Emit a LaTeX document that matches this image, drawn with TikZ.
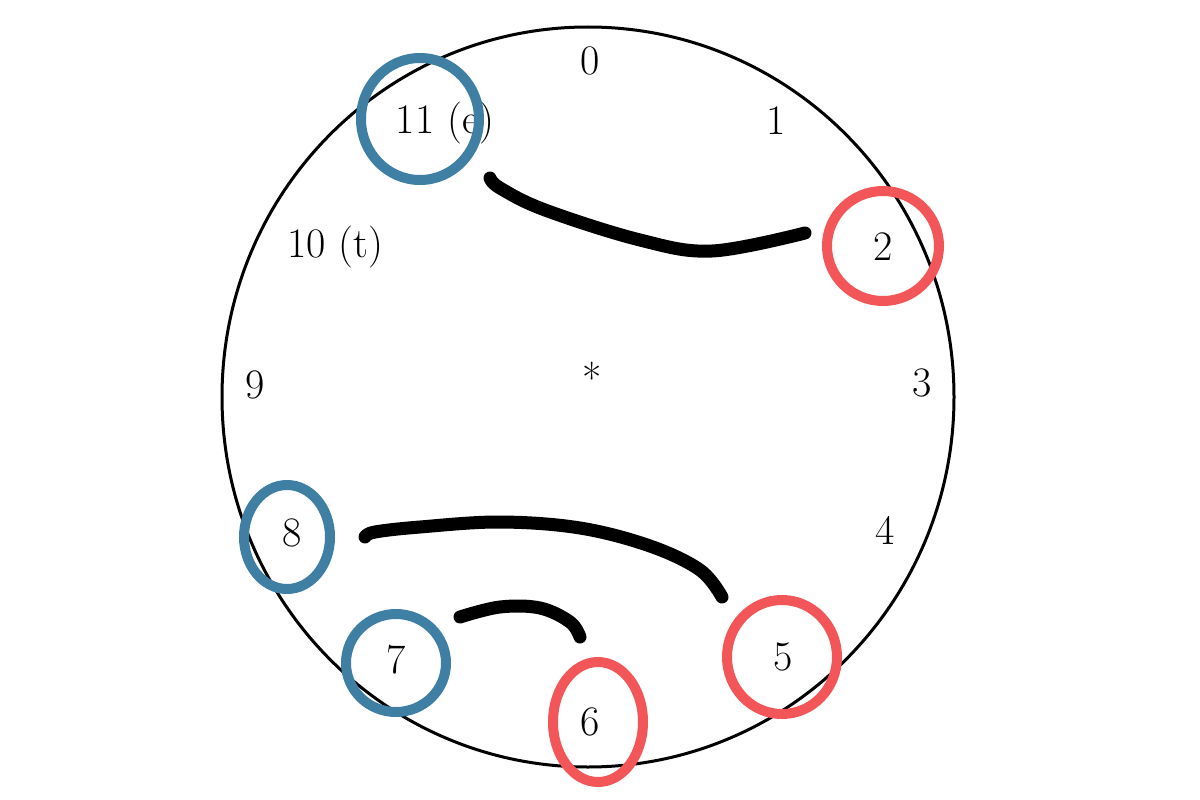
\documentclass[tikz,border=0pt]{standalone}
\begin{document}
\begin{tikzpicture}[x=1pt,y=-1pt,
  lab/.style={inner sep=0pt,font=\fontsize{42}{48}\selectfont},
  bluering/.style={draw=ringblue,line width=10pt},
  redring/.style={draw=ringred,line width=10pt},
  stroke/.style={line width=13pt,line cap=round,line join=round}]
\definecolor{ringblue}{RGB}{62,127,163}
\definecolor{ringred}{RGB}{243,86,88}
\useasboundingbox (0,0) rectangle (1200,800);
\fill[white] (0,0) rectangle (1200,800);
% clock face
\draw[line width=3pt] (588,397) ellipse [x radius=366, y radius=370];
% labels
\node[lab] (n0) at (590,61) {0};
\node[lab] (n1) at (776,121) {1};
\node[lab] (n2) at (883,247) {2};
\node[lab] (n3) at (922,383) {3};
\node[lab] (n4) at (885,530) {4};
\node[lab] (n5) at (783,657) {5};
\node[lab] (n6) at (590,722) {6};
\node[lab] (n7) at (396,660) {7};
\node[lab] (n8) at (292,533) {8};
\node[lab] (n9) at (255,385) {9};
\node[lab] (n10) at (335,247) {10 (t)};
\node[lab] (n11) at (445,123) {11 (e)};
\node[lab] (star) at (592,378) {*};
% rings
\draw[bluering] (420,119) ellipse [x radius=59, y radius=61];
\draw[redring] (883,246) ellipse [x radius=56, y radius=55];
\draw[bluering] (287,537) ellipse [x radius=43, y radius=52];
\draw[bluering] (396,663) ellipse [x radius=50, y radius=49];
\draw[redring] (598,722) ellipse [x radius=45, y radius=60];
\draw[redring] (782,657) ellipse [x radius=55, y radius=57];
% strokes
\coordinate (a1) at (490,178);
\coordinate (a2) at (805,233);
\draw[stroke] plot[smooth,tension=0.6] coordinates {(a1) (500,188) (545,210) (640,240) (712,251) (a2)};
\coordinate (b1) at (365,537);
\coordinate (b2) at (722,597);
\draw[stroke] plot[smooth,tension=0.6] coordinates {(b1) (375,532) (420,527) (500,522) (580,528) (650,546) (700,570) (b2)};
\coordinate (c1) at (460,617);
\coordinate (c2) at (580,637);
\draw[stroke] plot[smooth,tension=0.6] coordinates {(c1) (500,607) (540,608) (570,622) (c2)};
\end{tikzpicture}
\end{document}
